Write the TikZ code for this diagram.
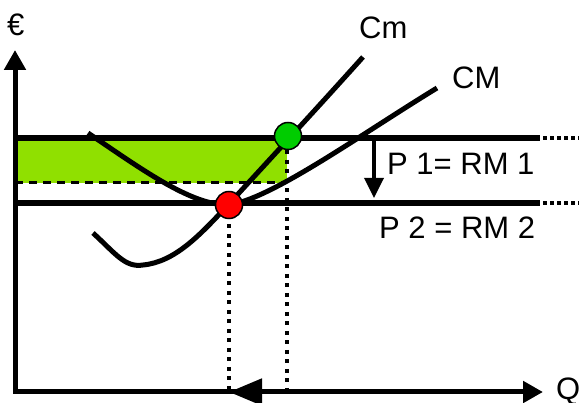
\documentclass[tikz,border=0pt]{standalone}
\usepackage{fontspec}
\setmainfont{Liberation Sans}
\usetikzlibrary{arrows.meta}
\definecolor{fillgreen}{HTML}{90E000}
\definecolor{dotgreen}{HTML}{00CC00}
\begin{document}
\begin{tikzpicture}[x=1pt,y=-1pt,
  axisline/.style={line width=5pt},
  priceline/.style={line width=6.5pt},
  curve/.style={line width=5pt},
  extdot/.style={line width=4pt,dash pattern=on 3.5pt off 3.5pt},
  vdot/.style={line width=3.5pt,dash pattern=on 4pt off 5.5pt},
  lbl/.style={inner sep=0pt,font=\fontsize{31}{36}\selectfont},
  pt/.style={circle,draw=black,line width=1.5pt,minimum size=27pt,inner sep=0pt},
  bigtip/.style={-{Triangle[length=20pt,width=21pt]}}]
\useasboundingbox (0,0) rectangle (579,403);
% coordinates
\coordinate (O) at (15,392);
\coordinate (Ytop) at (15,50);
\coordinate (Xend) at (543,392);
\coordinate (P1a) at (15,138);
\coordinate (P1b) at (540,138);
\coordinate (P1c) at (579,138);
\coordinate (P2a) at (15,203);
\coordinate (P2b) at (540,203);
\coordinate (P2c) at (579,203);
\coordinate (Da) at (15,183);
\coordinate (Db) at (287,183);
\coordinate (Q1) at (229,392);
\coordinate (Q2) at (287,392);
\coordinate (Aa) at (374,141);
\coordinate (Ab) at (374,198);
% green area
\fill[fillgreen] (15,141) rectangle (287,183);
\draw[line width=3pt,dash pattern=on 8pt off 6pt] (Da) -- (Db);
% dotted verticals
\draw[vdot] (229,215) -- (Q1);
\draw[vdot] (287,141) -- (Q2);
% price lines
\draw[priceline] (P1a) -- (P1b);
\draw[priceline] (P2a) -- (P2b);
\draw[extdot] (P1b) ++(3,0) -- (P1c);
\draw[extdot] (P2b) ++(3,0) -- (P2c);
% axes
\draw[axisline,bigtip] (O) -- (Ytop);
\draw[axisline,bigtip] (13,392) -- (Xend);
% bottom arrow
\draw[line width=5pt,-{Triangle[length=33pt,width=26pt]}] (Q2) -- (Q1);
% price arrow
\draw[line width=3.5pt,-{Triangle[length=20pt,width=19pt]}] (Aa) -- (Ab);
% curves
\draw[curve] (93,233) .. controls (115,253) and (125,268) .. (143,265)
  .. controls (175,262) and (200,235) .. (228,205)
  .. controls (260,170) and (320,105) .. (363,57);
\draw[curve] (88,133) .. controls (140,168) and (190,205) .. (228,205)
  .. controls (270,200) and (360,135) .. (437,88);
% points
\node[pt,fill=red] (red) at (229,205) {};
\node[pt,fill=dotgreen] (green) at (288,136) {};
% labels
\node[lbl,anchor=west] (euro) at (7,25) {€};
\node[lbl,anchor=west] (cm) at (359,28) {Cm};
\node[lbl,anchor=west] (CM) at (452,78) {CM};
\node[lbl,anchor=west] (p1) at (387,164) {P 1= RM 1};
\node[lbl,anchor=west] (p2) at (379,228) {P 2 = RM 2};
\node[lbl,anchor=west] (q) at (556,392) {Q};
\end{tikzpicture}
\end{document}
